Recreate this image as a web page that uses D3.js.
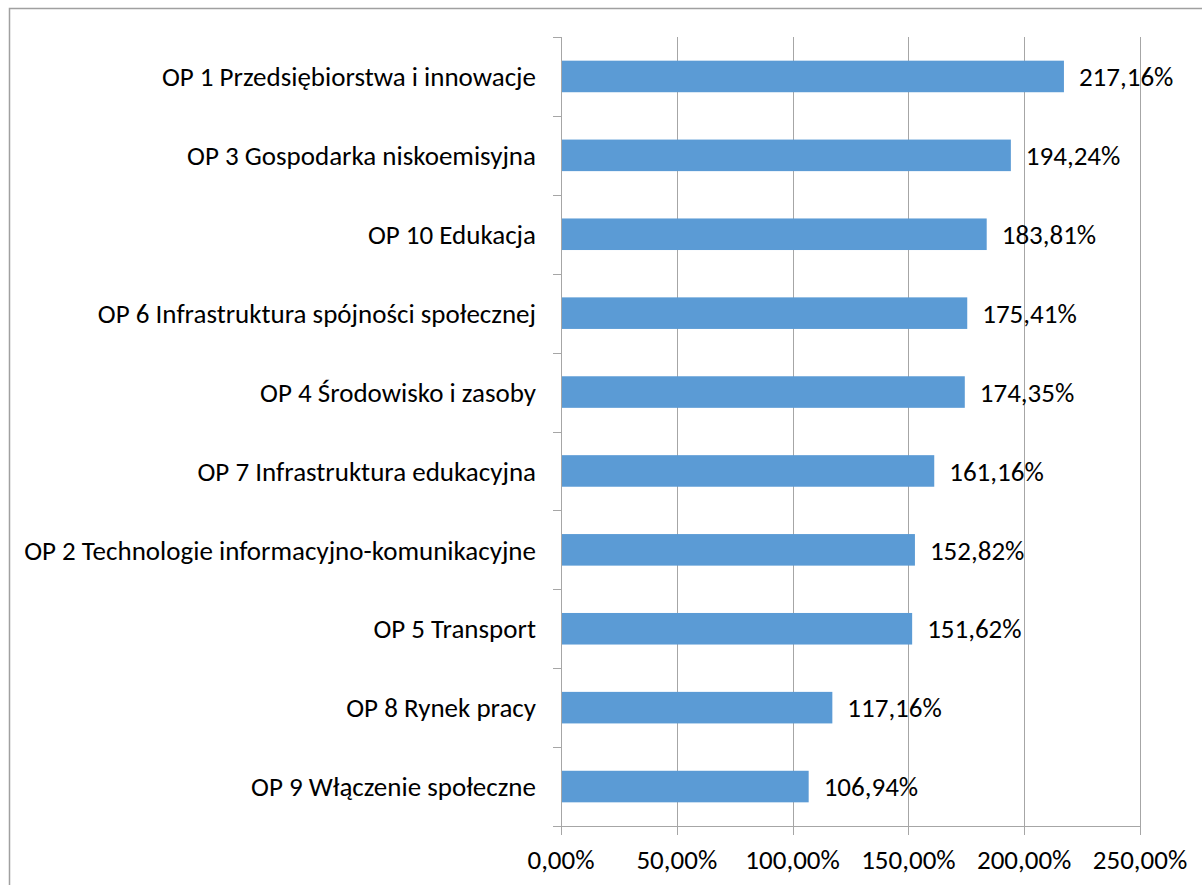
<!DOCTYPE html>
<html>
<head>
<meta charset="utf-8">
<script src="https://cdn.jsdelivr.net/npm/d3@7"></script>
<style>
  body { margin: 0; background: #fff; }
  text { font-family: Carlito, Calibri, Lato, sans-serif; fill: #000; }
</style>
</head>
<body>
<script>
const categories = [
    "OP 1 Przedsiębiorstwa i innowacje",
    "OP 3 Gospodarka niskoemisyjna",
    "OP 10 Edukacja",
    "OP 6 Infrastruktura spójności społecznej",
    "OP 4 Środowisko i zasoby",
    "OP 7 Infrastruktura edukacyjna",
    "OP 2 Technologie informacyjno-komunikacyjne",
    "OP 5 Transport",
    "OP 8 Rynek pracy",
    "OP 9 Włączenie społeczne"
];
const values = [217.16, 194.24, 183.81, 175.41, 174.35, 161.16, 152.82, 151.62, 117.16, 106.94];
const xTicks = [0, 50, 100, 150, 200, 250];

const width = 1202;
const height = 885;
const plotTop = 37, plotBottom = 826;

const svg = d3.select("body")
    .append("svg")
    .attr("width", width)
    .attr("height", height);

// chart frame (runs off the top/right/bottom of the picture)
svg.append("rect")
    .attr("x", 9.5)
    .attr("y", 8.5)
    .attr("width", 1300)
    .attr("height", 1000)
    .attr("fill", "none")
    .attr("stroke", "#a0a0a0")
    .attr("stroke-width", 1.5);

const x = d3.scaleLinear().domain([0, 250]).range([561, 1140]);
const y = d3.scaleBand().domain(categories).range([plotTop, plotBottom]).paddingInner(0.6).paddingOuter(0.3);

const fmt = v => d3.format(".2f")(v).replace(".", ",") + "%";

// gridlines
svg.selectAll(".grid")
    .data(xTicks.slice(1))
    .enter()
    .append("line")
    .attr("class", "grid")
    .attr("x1", d => Math.round(x(d)) + 0.5)
    .attr("x2", d => Math.round(x(d)) + 0.5)
    .attr("y1", plotTop)
    .attr("y2", plotBottom)
    .style("stroke", "#a6a6a6");

// bars
svg.selectAll(".bar")
    .data(values)
    .enter()
    .append("rect")
    .attr("class", "bar")
    .attr("x", x(0) + 1)
    .attr("y", (d, i) => y(categories[i]))
    .attr("width", d => x(d) - x(0) - 1)
    .attr("height", y.bandwidth())
    .attr("fill", "#5b9bd5");

// value labels
svg.selectAll(".val")
    .data(values)
    .enter()
    .append("text")
    .attr("class", "val")
    .attr("x", d => x(d) + 15)
    .attr("y", (d, i) => y(categories[i]) + y.bandwidth() / 2)
    .attr("dy", "0.36em")
    .style("font-size", "27px")
    .text(d => fmt(d));

// category axis
const yAxis = svg.append("g");
const yEdges = d3.range(categories.length + 1).map(i => plotTop + i * (plotBottom - plotTop) / categories.length);
yAxis.append("line")
    .attr("x1", x(0) + 0.5).attr("x2", x(0) + 0.5)
    .attr("y1", plotTop).attr("y2", plotBottom)
    .style("stroke", "#a6a6a6");
yAxis.selectAll(".ytick")
    .data(yEdges)
    .enter()
    .append("line")
    .attr("x1", x(0) - 8).attr("x2", x(0))
    .attr("y1", d => Math.round(d) + 0.5).attr("y2", d => Math.round(d) + 0.5)
    .style("stroke", "#a6a6a6");
yAxis.selectAll(".ylab")
    .data(categories)
    .enter()
    .append("text")
    .attr("x", 536)
    .attr("y", d => y(d) + y.bandwidth() / 2)
    .attr("dy", "0.36em")
    .attr("text-anchor", "end")
    .style("font-size", "27px")
    .text(d => d);

// value axis
const xAxis = svg.append("g");
xAxis.append("line")
    .attr("x1", x(0) - 8).attr("x2", Math.round(x(250)) + 1)
    .attr("y1", plotBottom + 0.5).attr("y2", plotBottom + 0.5)
    .style("stroke", "#a6a6a6");
xAxis.selectAll(".xtick")
    .data(xTicks)
    .enter()
    .append("line")
    .attr("x1", d => Math.round(x(d)) + 0.5).attr("x2", d => Math.round(x(d)) + 0.5)
    .attr("y1", plotBottom).attr("y2", plotBottom + 9)
    .style("stroke", "#a6a6a6");
xAxis.selectAll(".xlab")
    .data(xTicks)
    .enter()
    .append("text")
    .attr("x", d => x(d))
    .attr("y", 859)
    .attr("dy", "0.36em")
    .attr("text-anchor", "middle")
    .style("font-size", "27px")
    .text(d => fmt(d));
</script>
</body>
</html>
